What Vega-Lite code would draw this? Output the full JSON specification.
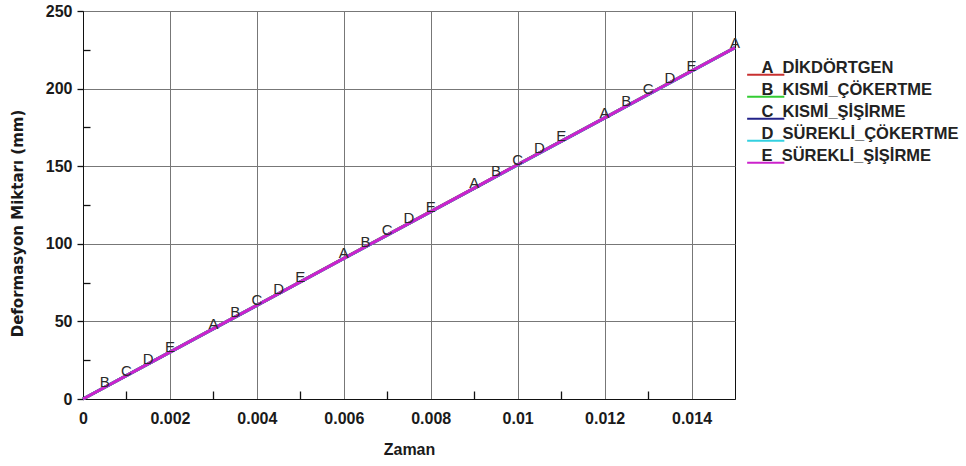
{
  "$schema": "https://vega.github.io/schema/vega-lite/v6.json",
  "width": 652,
  "height": 388,
  "autosize": "none",
  "padding": {"left": 83, "top": 11, "right": 231, "bottom": 67},
  "background": "white",
  "config": {
    "view": {"stroke": "#111", "strokeWidth": 1},
    "font": "Liberation Sans",
    "axis": {
      "labelFont": "Liberation Sans",
      "labelFontWeight": "bold",
      "labelFontSize": 16,
      "labelColor": "#1a1a1a",
      "titleFont": "Liberation Sans",
      "titleFontWeight": "bold",
      "titleColor": "#1a1a1a",
      "domainColor": "#111",
      "tickColor": "#111",
      "gridColor": "#777",
      "gridOpacity": 1
    }
  },
  "datasets": {
    "lines": [
      {"seri": "A", "t": 0, "y": 0}, {"seri": "A", "t": 0.0015, "y": 22.7}, {"seri": "A", "t": 0.003, "y": 45.4}, {"seri": "A", "t": 0.0045, "y": 68.0}, {"seri": "A", "t": 0.006, "y": 90.7}, {"seri": "A", "t": 0.0075, "y": 113.3}, {"seri": "A", "t": 0.009, "y": 135.9}, {"seri": "A", "t": 0.0105, "y": 158.6}, {"seri": "A", "t": 0.012, "y": 181.2}, {"seri": "A", "t": 0.0135, "y": 203.9}, {"seri": "A", "t": 0.015, "y": 226.5},
      {"seri": "B", "t": 0, "y": 0}, {"seri": "B", "t": 0.0015, "y": 22.6}, {"seri": "B", "t": 0.003, "y": 45.3}, {"seri": "B", "t": 0.0045, "y": 67.9}, {"seri": "B", "t": 0.006, "y": 90.6}, {"seri": "B", "t": 0.0075, "y": 113.2}, {"seri": "B", "t": 0.009, "y": 135.8}, {"seri": "B", "t": 0.0105, "y": 158.5}, {"seri": "B", "t": 0.012, "y": 181.1}, {"seri": "B", "t": 0.0135, "y": 203.8}, {"seri": "B", "t": 0.015, "y": 226.4},
      {"seri": "C", "t": 0, "y": 0}, {"seri": "C", "t": 0.0015, "y": 22.6}, {"seri": "C", "t": 0.003, "y": 45.2}, {"seri": "C", "t": 0.0045, "y": 67.8}, {"seri": "C", "t": 0.006, "y": 90.5}, {"seri": "C", "t": 0.0075, "y": 113.1}, {"seri": "C", "t": 0.009, "y": 135.7}, {"seri": "C", "t": 0.0105, "y": 158.4}, {"seri": "C", "t": 0.012, "y": 181.0}, {"seri": "C", "t": 0.0135, "y": 203.6}, {"seri": "C", "t": 0.015, "y": 226.3},
      {"seri": "D", "t": 0, "y": 0}, {"seri": "D", "t": 0.0015, "y": 22.6}, {"seri": "D", "t": 0.003, "y": 45.3}, {"seri": "D", "t": 0.0045, "y": 67.9}, {"seri": "D", "t": 0.006, "y": 90.5}, {"seri": "D", "t": 0.0075, "y": 113.2}, {"seri": "D", "t": 0.009, "y": 135.8}, {"seri": "D", "t": 0.0105, "y": 158.4}, {"seri": "D", "t": 0.012, "y": 181.1}, {"seri": "D", "t": 0.0135, "y": 203.7}, {"seri": "D", "t": 0.015, "y": 226.4},
      {"seri": "E", "t": 0, "y": 0}, {"seri": "E", "t": 0.0015, "y": 22.6}, {"seri": "E", "t": 0.003, "y": 45.3}, {"seri": "E", "t": 0.0045, "y": 67.9}, {"seri": "E", "t": 0.006, "y": 90.6}, {"seri": "E", "t": 0.0075, "y": 113.2}, {"seri": "E", "t": 0.009, "y": 135.9}, {"seri": "E", "t": 0.0105, "y": 158.5}, {"seri": "E", "t": 0.012, "y": 181.1}, {"seri": "E", "t": 0.0135, "y": 203.8}, {"seri": "E", "t": 0.015, "y": 226.4}
    ],
    "marks": [
      {"seri": "A", "t": 0.003, "y": 45.3}, {"seri": "A", "t": 0.006, "y": 90.6}, {"seri": "A", "t": 0.009, "y": 135.9}, {"seri": "A", "t": 0.012, "y": 181.1}, {"seri": "A", "t": 0.015, "y": 226.4},
      {"seri": "B", "t": 0.0005, "y": 7.5}, {"seri": "B", "t": 0.0035, "y": 52.8}, {"seri": "B", "t": 0.0065, "y": 98.1}, {"seri": "B", "t": 0.0095, "y": 143.4}, {"seri": "B", "t": 0.0125, "y": 188.7},
      {"seri": "C", "t": 0.001, "y": 15.1}, {"seri": "C", "t": 0.004, "y": 60.4}, {"seri": "C", "t": 0.007, "y": 105.7}, {"seri": "C", "t": 0.01, "y": 151.0}, {"seri": "C", "t": 0.013, "y": 196.2},
      {"seri": "D", "t": 0.0015, "y": 22.6}, {"seri": "D", "t": 0.0045, "y": 67.9}, {"seri": "D", "t": 0.0075, "y": 113.2}, {"seri": "D", "t": 0.0105, "y": 158.5}, {"seri": "D", "t": 0.0135, "y": 203.8},
      {"seri": "E", "t": 0.002, "y": 30.2}, {"seri": "E", "t": 0.005, "y": 75.5}, {"seri": "E", "t": 0.008, "y": 120.8}, {"seri": "E", "t": 0.011, "y": 166.0}, {"seri": "E", "t": 0.014, "y": 211.3}
    ]
  },
  "encoding": {
    "x": {
      "field": "t", "type": "quantitative",
      "scale": {"domain": [0, 0.015], "nice": false, "zero": false},
      "axis": {
        "values": [0, 0.001, 0.002, 0.003, 0.004, 0.005, 0.006, 0.007, 0.008, 0.009, 0.01, 0.011, 0.012, 0.013, 0.014],
        "labelExpr": "round(datum.value * 1000) % 2 == 1 ? '' : format(datum.value, '.3~f')",
        "grid": true,
        "gridOpacity": {"condition": {"test": "round(datum.value * 1000) % 2 == 1", "value": 0}, "value": 1},
        "ticks": true,
        "tickSize": {"condition": {"test": "round(datum.value * 1000) % 2 == 1", "value": -8}, "value": 0},
        "tickWidth": 1.3,
        "labelPadding": 11,
        "labelFlush": false,
        "title": "Zaman",
        "titleFontSize": 16,
        "titlePadding": 15
      }
    },
    "y": {
      "field": "y", "type": "quantitative",
      "scale": {"domain": [0, 250], "nice": false},
      "axis": {
        "values": [0, 25, 50, 75, 100, 125, 150, 175, 200, 225, 250],
        "labelExpr": "datum.value % 50 != 0 ? '' : datum.label",
        "grid": true,
        "gridOpacity": {"condition": {"test": "datum.value % 50 != 0", "value": 0}, "value": 1},
        "tickSize": {"condition": {"test": "datum.value % 50 != 0", "value": -7}, "value": 6},
        "tickWidth": 1.3,
        "labelPadding": 5,
        "labelFlush": false,
        "title": "Deformasyon Miktarı (mm)",
        "titleFont": "DejaVu Sans",
        "titleFontSize": 15,
        "titlePadding": 20,
        "titleY": 212
      }
    }
  },
  "layer": [
    {
      "data": {"name": "lines"},
      "mark": {"type": "line", "strokeWidth": 3},
      "encoding": {
        "color": {
          "field": "seri", "type": "nominal",
          "scale": {"domain": ["A", "B", "C", "D", "E"], "range": ["#c83030", "#33cc33", "#222288", "#33d0e0", "#cc22cc"]},
          "legend": {
            "orient": "none",
            "legendX": 674.5,
            "legendY": 48.8,
            "title": null,
            "padding": 0,
            "symbolType": "M-3.1,1.1H3.1",
            "symbolSize": 144,
            "symbolStrokeWidth": 2,
            "labelFont": "Liberation Sans",
            "labelFontWeight": "bold",
            "labelFontSize": 16.5,
            "labelColor": "#222",
            "labelOffset": -12.5,
            "rowPadding": 3,
            "labelLimit": 400,
            "labelExpr": "datum.label + '\u00a0\u00a0' + (datum.label == 'A' ? 'DİKDÖRTGEN' : datum.label == 'B' ? 'KISMİ_ÇÖKERTME' : datum.label == 'C' ? 'KISMİ_ŞİŞİRME' : datum.label == 'D' ? 'SÜREKLİ_ÇÖKERTME' : 'SÜREKLİ_ŞİŞİRME')"
          }
        }
      }
    },
    {
      "data": {"name": "marks"},
      "mark": {"type": "text", "font": "Liberation Sans", "fontSize": 15, "color": "#2a2a2a", "baseline": "middle", "dy": -5},
      "encoding": {
        "text": {"field": "seri"}
      }
    }
  ]
}
